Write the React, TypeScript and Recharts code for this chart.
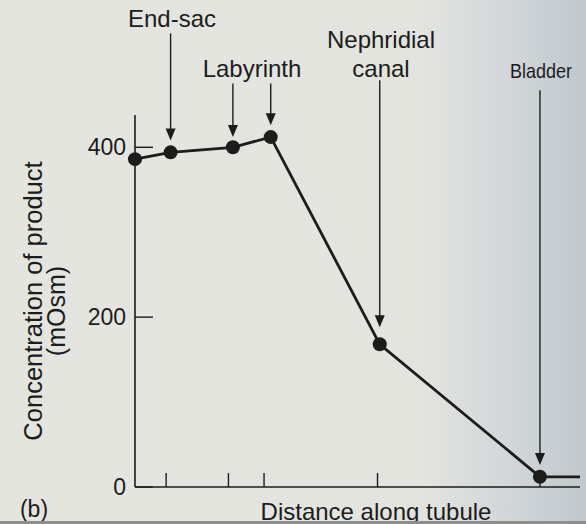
import React from 'react';
import { LineChart, Line, XAxis, YAxis, ReferenceLine } from 'recharts';

// distance along the tubule (arbitrary units) and product concentration (mOsm)
const distance = [0, 8, 22, 30.5, 55, 91, 100];
const concentration = [386, 394, 400, 412, 168, 12, 12];

const xTicks = [7, 21, 29, 54.5, 91];
const yTicks = [0, 200, 400];

// pointer arrows: x position, top of shaft, tip (in mOsm)
const arrowX = [8, 22, 30.5, 55, 91];
const arrowTop = [534, 475, 475, 479, 467];
const arrowTip = [408, 412, 426, 188, 26];

const data = distance.map((d, i) => ({ distance: d, conc: concentration[i] }));

const ink = '#1c1c1c';
const font = "'Liberation Sans', Arial, Helvetica, sans-serif";

const Dot = (props: any) => {
  const { cx, cy, index } = props;
  if (index === data.length - 1) return <g key={`d${index}`} />;
  return <circle key={`d${index}`} cx={cx} cy={cy} r={7} fill={ink} />;
};

// x axis has tick marks but no labels
const NoLabel = () => <g />;

const Arrow = (props: any) => {
  const { x1, y1, x2, y2 } = props;
  const top = Math.min(y1, y2);
  const tip = Math.max(y1, y2);
  return (
    <g>
      <line x1={x1} y1={top} x2={x2} y2={tip - 8} stroke={ink} strokeWidth={1.4} />
      <polygon points={`${x2 - 5},${tip - 12} ${x2 + 5},${tip - 12} ${x2},${tip}`} fill={ink} />
    </g>
  );
};

export default function App() {
  return (
    <div style={{ position: 'absolute', left: 0, top: 0, width: 586, height: 524, overflow: 'hidden' }}>
      <svg width={586} height={524} style={{ position: 'absolute', left: 0, top: 0 }}>
        <defs>
          <linearGradient id="paper" x1="0" y1="0" x2="1" y2="0">
            <stop offset="0" stopColor="#e5e5df" />
            <stop offset="0.72" stopColor="#e3e4de" />
            <stop offset="0.85" stopColor="#d4d8da" />
            <stop offset="0.93" stopColor="#c9d0d4" />
            <stop offset="1" stopColor="#c2c9ce" />
          </linearGradient>
        </defs>
        <rect x={0} y={0} width={586} height={524} fill="url(#paper)" />
      </svg>
      <div style={{ position: 'absolute', left: 0, top: 0 }}>
        <LineChart width={586} height={524} data={data} margin={{ top: 115, right: 6, left: 75, bottom: 7 }}>
          <XAxis
            type="number"
            dataKey="distance"
            domain={[0, 100]}
            ticks={xTicks}
            tick={NoLabel}
            tickSize={-14}
            height={30}
            axisLine={{ stroke: ink, strokeWidth: 1.6 }}
            tickLine={{ stroke: ink, strokeWidth: 1.4 }}
          />
          <YAxis
            type="number"
            domain={[0, 438]}
            ticks={yTicks}
            width={60}
            tickSize={-18}
            tickMargin={27}
            axisLine={{ stroke: ink, strokeWidth: 1.6 }}
            tickLine={{ stroke: ink, strokeWidth: 1.4 }}
            tick={{ fill: ink, fontSize: 23, fontFamily: font }}
          />
          {arrowX.map((x, i) => (
            <ReferenceLine
              key={`a${i}`}
              segment={[{ x, y: arrowTop[i] }, { x, y: arrowTip[i] }]}
              ifOverflow="visible"
              shape={Arrow}
            />
          ))}
          <Line
            type="linear"
            dataKey="conc"
            stroke={ink}
            strokeWidth={2.8}
            dot={Dot}
            activeDot={false}
            isAnimationActive={false}
          />
        </LineChart>
      </div>
      <svg width={586} height={524} style={{ position: 'absolute', left: 0, top: 0, pointerEvents: 'none' }}>
        <g fill={ink} fontFamily={font} fontSize={24} textAnchor="middle">
          <text x={172} y={27}>End-sac</text>
          <text x={252} y={77}>Labyrinth</text>
          <text x={381} y={48}>Nephridial</text>
          <text x={381} y={77}>canal</text>
          <text x={541} y={78} fontSize={21} fontFamily="'Liberation Sans Narrow', 'Liberation Sans', sans-serif" textLength={62} lengthAdjust="spacingAndGlyphs">Bladder</text>
          <text x={376} y={520}>Distance along tubule</text>
          <text x={42} y={301} fontSize={25.5} transform="rotate(-90 42 301)">Concentration of product</text>
          <text x={65} y={311} fontSize={25} transform="rotate(-90 65 311)">(mOsm)</text>
          <text x={34} y={517} fontSize={23}>(b)</text>
        </g>
        <rect x={0} y={521} width={586} height={3} fill="#8e8e8a" />
      </svg>
    </div>
  );
}
